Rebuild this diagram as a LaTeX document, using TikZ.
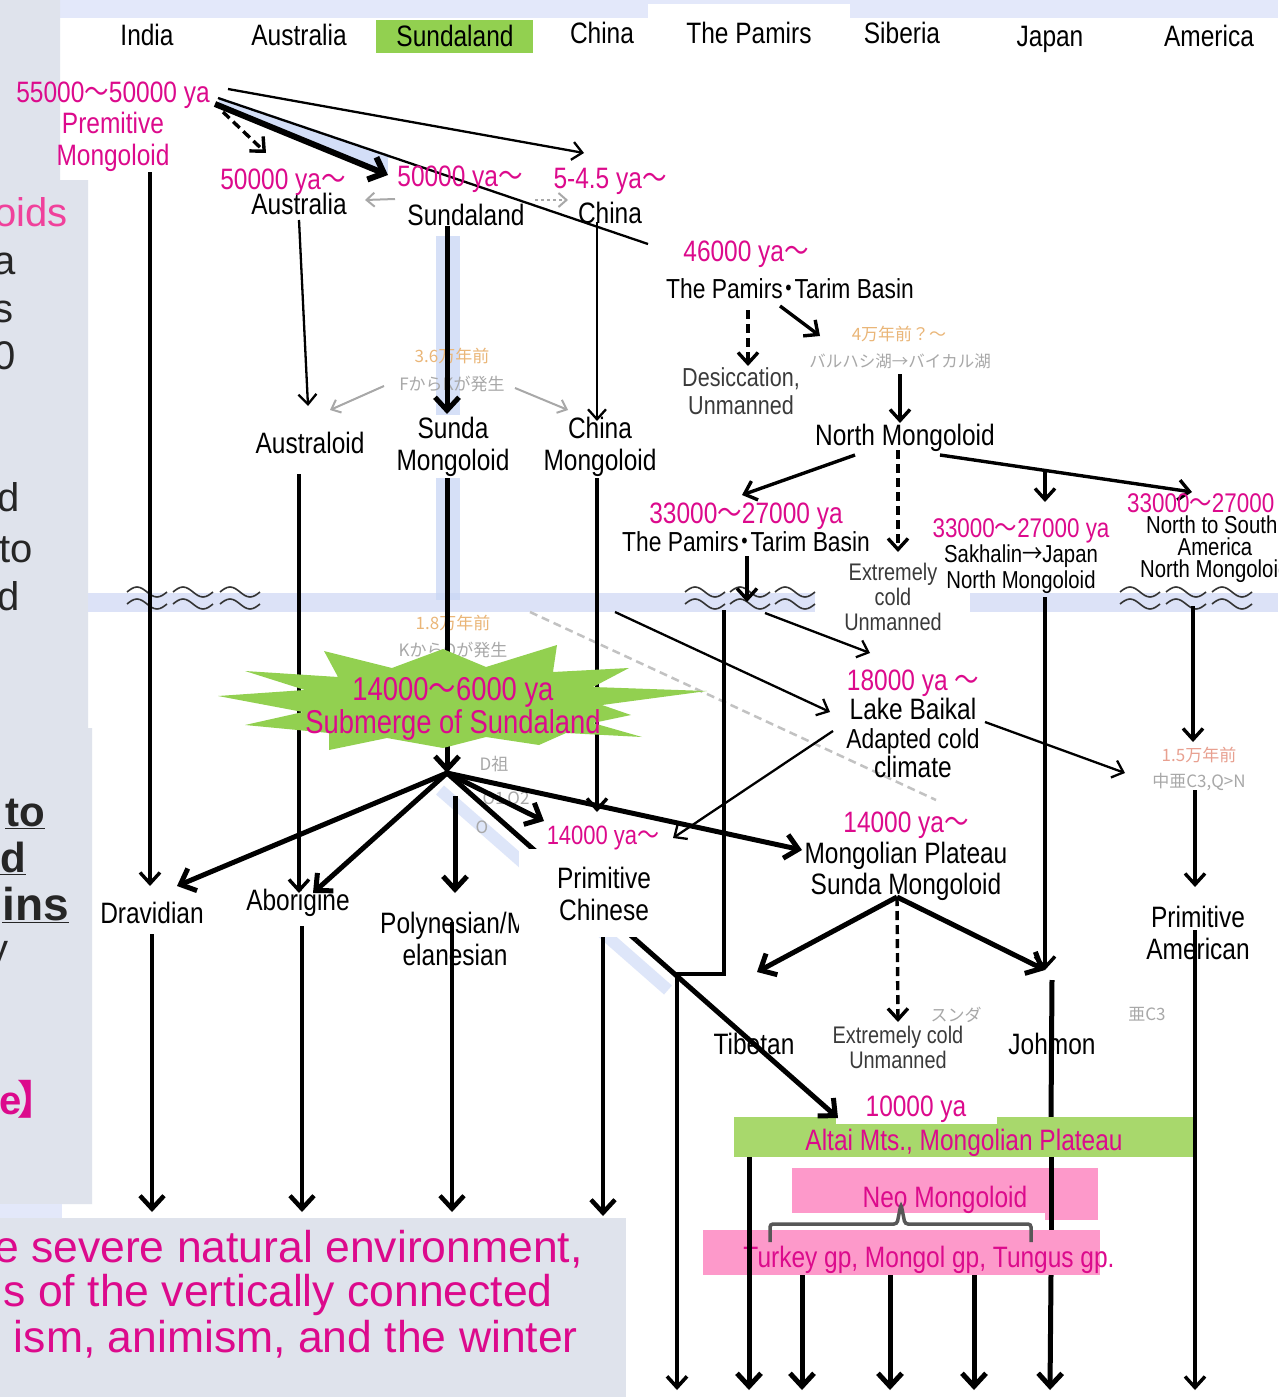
\documentclass[tikz,border=0pt]{standalone}
\usepackage{fontspec}
\usetikzlibrary{arrows.meta}
\setmainfont{Liberation Sans}
\newfontfamily\gf{Liberation Sans}[FakeStretch=0.83]
\newfontfamily\cjk{Noto Sans CJK JP}
\newfontfamily\cjkn{Noto Sans CJK JP}[FakeStretch=0.83]
\newcommand\mytld{{\cjkn ～}}
\newcommand\mydot{{\cjkn\hspace{-0.2em}・\hspace{-0.2em}}}
\newcommand\myarr{{\cjkn →}}
\definecolor{mag}{HTML}{DC0A8C}
\definecolor{pinkt}{HTML}{F0419B}
\definecolor{panel}{HTML}{DFE3EC}
\definecolor{topstrip}{HTML}{E3E8FA}
\definecolor{band}{HTML}{DCE2F7}
\definecolor{shadowc}{HTML}{C9D6F5}
\definecolor{hgreen}{HTML}{92D050}
\definecolor{agreen}{HTML}{A8D86C}
\definecolor{pinkbox}{HTML}{FD99CA}
\definecolor{gtxt}{HTML}{3A3A3A}
\definecolor{wavec}{HTML}{333333}
\definecolor{bracec}{HTML}{575757}
\definecolor{fainto}{HTML}{EAB678}
\definecolor{faintg}{HTML}{A8A8A8}
\definecolor{faintr}{HTML}{E8A090}
\tikzset{
  lb/.style={font=\gf\fontsize{29.5}{32}\selectfont, inner sep=0pt, anchor=base},
  lbs/.style={font=\gf\fontsize{27.5}{30}\selectfont, inner sep=0pt, anchor=base},
  mg/.style={lb, text=mag},
  sm/.style={font=\gf\fontsize{24.5}{26}\selectfont, inner sep=0pt, anchor=base},
  smg/.style={font=\gf\fontsize{27}{28}\selectfont, inner sep=0pt, anchor=base, text=mag},
  pmg/.style={font=\gf\fontsize{26.5}{28}\selectfont, inner sep=0pt, anchor=base, text=mag},
  gr/.style={font=\gf\fontsize{24}{26}\selectfont, inner sep=0pt, anchor=base, text=gtxt},
  grb/.style={font=\gf\fontsize{26}{28}\selectfont, inner sep=0pt, anchor=base, text=gtxt},
  bigm/.style={font=\gf\fontsize{33}{36}\selectfont, inner sep=0pt, anchor=base, text=mag},
  jp/.style={font=\cjk\fontsize{17}{18}\selectfont, inner sep=0pt, anchor=base},
  lefttxt/.style={font=\fontsize{40}{44}\selectfont, inner sep=0pt, anchor=base east, text=black!85},
  leftbold/.style={font=\bfseries\fontsize{42}{44}\selectfont, inner sep=0pt, anchor=base east, text=black!85},
  bottxt/.style={font=\fontsize{44.5}{46}\selectfont, inner sep=0pt, anchor=base east, text=mag},
  thk/.style={line width=5pt, -{Straight Barb[length=13pt,width=24pt]}},
  med/.style={line width=3.4pt, -{Straight Barb[length=11pt,width=20pt]}},
  thn/.style={line width=2.3pt, -{Straight Barb[length=10pt,width=18pt]}},
  faintarr/.style={line width=2pt, faintg, -{Straight Barb[length=8pt,width=14pt]}},
  wavesym/.pic={
    \foreach \dy in {-6,6}{
      \draw[line width=1.6pt, wavec] (-20,\dy) sin (-10,\dy-5) cos (0,\dy) sin (10,\dy+5) cos (20,\dy);
    }
  }
}
\begin{document}
\begin{tikzpicture}[x=1pt,y=-1pt]
\useasboundingbox (0,0) rectangle (1278,1397);
% ---------- backgrounds
\fill[white] (0,0) rectangle (1278,1397);
\fill[topstrip] (60,0) rectangle (1278,18);
\fill[white] (648,4) rectangle (850,18);
\fill[panel] (0,0) -- (60,0) -- (60,180) -- (88,180) -- (88,728) -- (92,728) -- (92,1204) -- (0,1204) -- cycle;
\fill[topstrip] (0,1204) rectangle (62,1218);
\fill[panel] (0,1218) rectangle (626,1397);
\fill[band] (88,593) rectangle (815,612);
\fill[band] (970,593) rectangle (1278,612);
\fill[hgreen] (376,20) rectangle (533,53);
% ---------- blue shadows
\fill[shadowc, opacity=.8] (219,97) -- (390,155) -- (390,174) -- (219,105) -- cycle;
\fill[shadowc, opacity=.75] (436,232) rectangle (460,600);
\draw[shadowc, opacity=.6, line width=12pt] (440,790) -- (668,990);
\fill[white] (388,158) rectangle (532,236);
\fill[white] (396,415) rectangle (512,478);
% ---------- left panel text
\node[lefttxt, text=pinkt] (lp1) at (68,226) {oids};
\node[lefttxt] (lp2) at (16,274) {a};
\node[lefttxt] (lp3) at (14,322) {s};
\node[lefttxt] (lp4) at (16,369) {0};
\node[lefttxt] (lp5) at (20,511) {d};
\node[lefttxt] (lp6) at (33,562) {to};
\node[lefttxt] (lp7) at (20,610) {d};
\node[leftbold] (lp8) at (45,826) {\underline{to}};
\node[leftbold] (lp9) at (26,872) {\underline{d}};
\node[leftbold, font=\bfseries\fontsize{46}{48}\selectfont] (lp10) at (69,920) {\underline{ins}};
\node[lefttxt] (lp11) at (9,962) {y};
\node[font=\bfseries\fontsize{40}{44}\selectfont, inner sep=0pt, anchor=base west, text=mag] (lp12) at (-1,1114) {e\hspace{-4pt}{\cjk 】}};
% ---------- bottom text
\node[bottxt] (bt1) at (583,1262) {e severe natural environment,};
\node[bottxt] (bt2) at (553,1306) {s of the vertically connected};
\node[bottxt] (bt3) at (578,1352) {ism, animism, and the winter};
% ---------- header
\node[lb] (hIndia) at (147,46) {India};
\node[lb] (hAus) at (299,46) {Australia};
\node[lb] (hSunda) at (455,47) {Sundaland};
\node[lb] (hChina) at (602,44) {China};
\node[lb] (hPamirs) at (749,44) {The Pamirs};
\node[lb] (hSiberia) at (902,44) {Siberia};
\node[lb] (hJapan) at (1050,47) {Japan};
\node[lb] (hAmerica) at (1209,47) {America};
% ---------- faint background labels
\node[jp, text=fainto] (f1) at (452,362) {3.6万年前};
\node[jp, text=faintg] (f2) at (452,390) {FからKが発生};
\node[jp, text=fainto] (f3) at (899,340) {4万年前？～};
\node[jp, text=faintg, font=\cjk\fontsize{16.5}{18}\selectfont] (f4) at (900,367) {バルハシ湖→バイカル湖};
\node[jp, text=fainto] (f5) at (453,629) {1.8万年前};
\node[jp, text=faintg] (f6) at (453,656) {KからOが発生};
\node[jp, text=faintg] (f7) at (494,770) {D祖};
\node[jp, text=faintg] (f8) at (506,804) {O1\,O2};
\node[jp, text=faintg] (f9) at (482,833) {O};
\node[jp, text=faintr] (f10) at (1199,761) {1.5万年前};
\node[jp, text=faintg] (f11) at (1199,787) {中亜C3,Q>N};
\node[jp, text=faintg] (f12) at (956,1021) {スンダ};
\node[jp, text=faintg] (f13) at (1147,1020) {亜C3};
\coordinate (fa1) at (395,199); \coordinate (fa2) at (365,200);
\coordinate (fa3) at (535,200); \coordinate (fa4) at (568,200);
\coordinate (fa5) at (384,386); \coordinate (fa6) at (330,410);
\coordinate (fa7) at (515,388); \coordinate (fa8) at (568,410);
\coordinate (fd1) at (530,612); \coordinate (fd2) at (936,800);
\draw[faintarr] (fa1) -- (fa2);
\draw[faintarr, dashed] (fa3) -- (fa4);
\draw[faintarr] (fa5) -- (fa6);
\draw[faintarr] (fa7) -- (fa8);
\draw[faintg!70, line width=2.5pt, dash pattern=on 8pt off 5pt] (fd1) -- (fd2);
% ---------- waves
\foreach \wx in {147,193,240,705,750,795,1140,1186,1232}{
  \pic at (\wx,598) {wavesym};
}
% ---------- coordinates for connectors
\coordinate (o1) at (228,89);  \coordinate (cT) at (584,153);
\coordinate (o2) at (218,98);  \coordinate (pE) at (648,244);
\coordinate (o3) at (215,104); \coordinate (sT) at (388,175);
\coordinate (o4) at (223,112); \coordinate (aT) at (266,153);
\coordinate (aS) at (299,220); \coordinate (aE) at (308,406);
\coordinate (sS) at (447,226); \coordinate (sE) at (447,414);
\coordinate (cS) at (597,222); \coordinate (cE) at (597,421);
\coordinate (pd1) at (748,310); \coordinate (pd2) at (748,366);
\coordinate (pg1) at (780,306); \coordinate (pg2) at (820,336);
\coordinate (bl1) at (900,374); \coordinate (bl2) at (900,423);
\coordinate (nm1) at (855,455); \coordinate (nm2) at (742,495);
\coordinate (nd1) at (898,450); \coordinate (nd2) at (898,552);
\coordinate (na1) at (940,455); \coordinate (na2) at (1192,492);
\coordinate (ns1) at (1045,470); \coordinate (ns2) at (1045,502);
\coordinate (tb1) at (747,556); \coordinate (tb2) at (747,602);
\coordinate (w1) at (765,613); \coordinate (w2) at (870,653);
\coordinate (w3) at (615,612); \coordinate (w4) at (830,712);
\coordinate (br1) at (724,610); \coordinate (br2) at (724,974);
\coordinate (br3) at (677,974); \coordinate (br4) at (677,1390);
\coordinate (in1) at (150,172); \coordinate (in2) at (150,886);
\coordinate (dr1) at (152,934); \coordinate (dr2) at (152,1212);
\coordinate (au1) at (299,474); \coordinate (au2) at (299,893);
\coordinate (ab1) at (302,926); \coordinate (ab2) at (302,1212);
\coordinate (su1) at (447,478); \coordinate (su2) at (447,773);
\coordinate (ch1) at (597,478); \coordinate (ch2) at (597,812);
\coordinate (ch3) at (603,937); \coordinate (ch4) at (603,1216);
\coordinate (hub) at (447,773);
\coordinate (hD) at (177,886); \coordinate (hA) at (313,893);
\coordinate (hP) at (544,821); \coordinate (hM) at (802,850);
\coordinate (hL) at (838,1118);
\coordinate (hLm) at (636,940);
\coordinate (py1) at (455,796); \coordinate (py2) at (455,893);
\coordinate (py3) at (452,922); \coordinate (py4) at (452,1212);
\coordinate (bk1) at (833,731); \coordinate (bk2) at (673,838);
\coordinate (bk3) at (985,722); \coordinate (bk4) at (1125,773);
\coordinate (mph) at (897,897);
\coordinate (mT) at (757,972); \coordinate (mJ) at (1045,970);
\coordinate (mX) at (898,1022);
\coordinate (jp1) at (1045,597); \coordinate (jp2) at (1045,970);
\coordinate (jm1) at (1052,980); \coordinate (jm2) at (1051,1117);
\coordinate (jm3) at (1051,1157); \coordinate (jm4) at (1051,1230);
\coordinate (jm5) at (1051,1275); \coordinate (jm6) at (1050,1390);
\coordinate (am1) at (1193,606); \coordinate (am2) at (1193,742);
\coordinate (am3) at (1195,790); \coordinate (am4) at (1195,887);
\coordinate (am5) at (1195,930); \coordinate (am6) at (1195,1390);
\coordinate (tt1) at (749,1157); \coordinate (tt2) at (749,1390);
\coordinate (g1a) at (802,1275); \coordinate (g1b) at (802,1390);
\coordinate (g2a) at (890,1275); \coordinate (g2b) at (890,1390);
\coordinate (g3a) at (974,1275); \coordinate (g3b) at (974,1390);
% ---------- connectors (upper part)
\draw[thn] (o1) -- (cT);
\draw[line width=2.3pt] (o2) -- (pE);
\draw[thk, line width=6pt] (o3) -- (sT);
\draw[med, dash pattern=on 9pt off 5pt] (o4) -- (aT);
\draw[thn] (aS) -- (aE);
\draw[thk] (sS) -- (sE);
\draw[thn] (cS) -- (cE);
\draw[med, dash pattern=on 9pt off 5pt] (pd1) -- (pd2);
\draw[med] (pg1) -- (pg2);
\draw[med] (bl1) -- (bl2);
\draw[med] (nm1) -- (nm2);
\draw[med, dash pattern=on 9pt off 5pt] (nd1) -- (nd2);
\draw[med] (na1) -- (na2);
\draw[med] (ns1) -- (ns2);
\draw[med] (tb1) -- (tb2);
\draw[thn] (w1) -- (w2);
\draw[thn] (w3) -- (w4);
\draw[med, line width=3.6pt] (br1) -- (br2) -- (br3) -- (br4);
\draw[med] (in1) -- (in2);
\draw[thk, line width=4.5pt] (dr1) -- (dr2);
\draw[med] (au1) -- (au2);
\draw[thk, line width=4.5pt] (ab1) -- (ab2);
\draw[thk] (su1) -- (su2);
\draw[med] (ch1) -- (ch2);
\draw[thk, line width=4.5pt] (ch3) -- (ch4);
\draw[thn] (bk1) -- (bk2);
\draw[thn] (bk3) -- (bk4);
\draw[med] (jp1) -- (jp2);
\draw[med] (am1) -- (am2);
\draw[med] (am3) -- (am4);
\draw[med] (am5) -- (am6);
% ---------- starburst
\fill[hgreen] (218,696) -- (305,690) -- (245,671) -- (338,677) -- (324,651) -- (392,668)
  -- (443,649) -- (486,667) -- (557,645) -- (553,672) -- (629,668) -- (593,687)
  -- (707,691) -- (602,705) -- (631,715) -- (593,723) -- (642,737) -- (566,733)
  -- (539,745) -- (486,737) -- (443,748) -- (387,738) -- (329,750) -- (329,733)
  -- (245,725) -- (303,712) -- cycle;
\node[bigm] (sb1) at (453,700) {14000\mytld6000 ya};
\node[bigm] (sb2) at (453,733) {Submerge of Sundaland};
% ---------- hub connectors
\draw[thk] (hub) -- (hD);
\draw[thk] (hub) -- (hA);
\draw[thk] (hub) -- (hP);
\draw[line width=5pt] (hub) -- (hLm);
\draw[thk] (hub) -- (hM);
\draw[thk] (py1) -- (py2);
\draw[thk, line width=4.5pt] (py3) -- (py4);
\draw[thk] (mph) -- (mT);
\draw[thk] (mph) -- (mJ);
\draw[med, dash pattern=on 9pt off 5pt] (mph) -- (mX);
% ---------- labels
\node[mg] (or1) at (113,102) {55000\mytld50000 ya};
\node[mg] (or2) at (113,133) {Premitive};
\node[mg] (or3) at (113,165) {Mongoloid};
\node[mg] (a1) at (283,189) {50000 ya\mytld};
\node[lb] (a2) at (299,214) {Australia};
\node[mg] (s1) at (460,186) {50000 ya\mytld};
\node[lb] (s2) at (466,225) {Sundaland};
\node[mg] (c1) at (610,188) {5-4.5 ya\mytld};
\node[lb] (c2) at (610,223) {China};
\node[mg] (p1) at (746,261) {46000 ya\mytld};
\node[lbs] (p2) at (790,298) {The Pamirs\mydot Tarim Basin};
\node[grb] (d1) at (741,386) {Desiccation,};
\node[grb] (d2) at (741,414) {Unmanned};
\node[lb] (nm) at (905,445) {North Mongoloid};
\node[lb] (al) at (310,453) {Australoid};
\node[lb] (sm1) at (453,438) {Sunda};
\node[lb] (sm2) at (453,470) {Mongoloid};
\node[lb] (cm1) at (600,438) {China};
\node[lb] (cm2) at (600,470) {Mongoloid};
\node[mg] (t1) at (746,523) {33000\mytld27000 ya};
\node[lbs] (t2) at (746,551) {The Pamirs\mydot Tarim Basin};
\node[gr] (e1) at (893,580) {Extremely};
\node[gr] (e2) at (893,605) {cold};
\node[gr] (e3) at (893,630) {Unmanned};
\node[smg] (k1) at (1021,537) {33000\mytld27000 ya};
\node[sm] (k2) at (1021,562) {Sakhalin\myarr Japan};
\node[sm] (k3) at (1021,588) {North Mongoloid};
\node[smg, anchor=base west] (r1) at (1127,512) {33000\mytld27000};
\node[sm, anchor=base west] (r2) at (1146,533) {North to South};
\node[sm] (r3) at (1215,555) {America};
\node[sm, anchor=base west] (r4) at (1140,577) {North Mongoloid};
\node[mg] (bk1n) at (913,690) {18000 ya \mytld};
\node[lb] (bk2n) at (913,719) {Lake Baikal};
\node[lbs] (bk3n) at (913,748) {Adapted cold};
\node[lb] (bk4n) at (913,777) {climate};
\node[mg] (mp1) at (906,832) {14000 ya\mytld};
\node[lb] (mp2) at (906,863) {Mongolian Plateau};
\node[lb] (mp3) at (906,894) {Sunda Mongoloid};
\node[lb] (dr) at (152,923) {Dravidian};
\node[lb] (ab) at (298,910) {Aborigine};
\node[lb, anchor=base west] (po1) at (380,933) {Polynesian/M};
\node[lb] (po2) at (455,965) {elanesian};
% Primitive Chinese box (covers the diagonal)
\fill[white] (519,849) rectangle (692,937);
\node[pmg] (pc0) at (603,844) {14000 ya\mytld};
\node[lb] (pc1) at (604,888) {Primitive};
\node[lb] (pc2) at (604,920) {Chinese};
\node[lb] (pa1) at (1198,927) {Primitive};
\node[lb] (pa2) at (1198,959) {American};
\node[lb] (tb) at (754,1054) {Tibetan};
\node[gr] (x1) at (898,1043) {Extremely cold};
\node[gr] (x2) at (898,1068) {Unmanned};
\node[lb] (jm) at (1052,1054) {Johmon};
% ---------- bottom boxes
\draw[line width=5pt] (jm1) -- (jm2);
\fill[agreen] (734,1117) rectangle (1193,1157);
\fill[white] (836,1085) rectangle (997,1124);
\node[mg] (ty) at (916,1116) {10000 ya};
\draw[thk] (hLm) -- (hL);
\node[mg] (alt) at (964,1150) {Altai Mts., Mongolian Plateau};
\fill[pinkbox] (792,1168) rectangle (1098,1213);
\fill[pinkbox] (1045,1213) rectangle (1098,1220);
\node[mg] (neo) at (945,1207) {Neo Mongoloid};
\draw[line width=5pt] (jm3) -- (jm4);
\fill[pinkbox] (703,1230) rectangle (1100,1275);
\draw[bracec, line width=3.5pt, rounded corners=3pt] (770,1242) -- (770,1224) -- (897,1224) -- (901,1204) -- (905,1224) -- (1031,1224) -- (1031,1242);
\node[mg] (tk) at (929,1267) {Turkey gp, Mongol gp, Tungus gp.};
% ---------- lower verticals
\draw[thk] (jm5) -- (jm6);
\draw[thk] (tt1) -- (tt2);
\draw[thk] (g1a) -- (g1b);
\draw[thk] (g2a) -- (g2b);
\draw[thk] (g3a) -- (g3b);
\end{tikzpicture}
\end{document}
